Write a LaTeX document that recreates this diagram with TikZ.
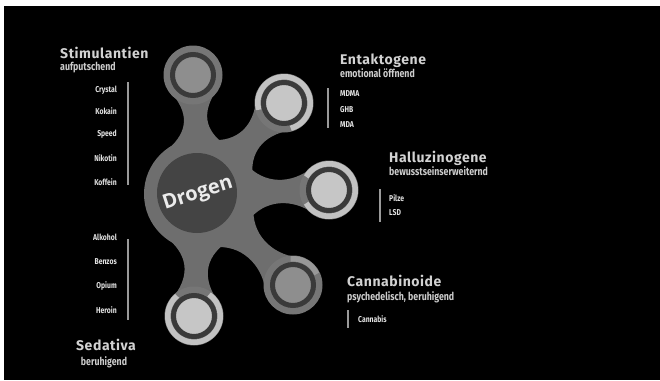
\documentclass[tikz,border=0pt]{standalone}
\usepackage{fontspec}
\setmainfont{Fira Sans}
\newfontfamily\headfont[LetterSpace=4]{Fira Sans}
\newfontfamily\condfont[FakeStretch=0.8]{Fira Sans}
\newfontfamily\hubfont{Open Sans}
\usetikzlibrary{calc,positioning}

\definecolor{blobgray}{HTML}{6E6E6E}
\definecolor{ringgray}{HTML}{767676}
\definecolor{ringlight}{HTML}{C2C2C2}
\definecolor{ringsoft}{HTML}{989898}
\definecolor{ringdark}{HTML}{3A3A3A}
\definecolor{coremid}{HTML}{8E8E8E}
\definecolor{corelight}{HTML}{C6C6C6}
\definecolor{hubdark}{HTML}{444444}
\definecolor{headgray}{HTML}{D2D2D2}
\definecolor{subgray}{HTML}{CDCDCD}
\definecolor{druggray}{HTML}{E2E2E2}
\definecolor{bargray}{HTML}{9A9A9A}

\begin{document}
\begin{tikzpicture}[x=1pt,y=1pt,
    stem/.style={fill=blobgray},
    hub base/.style={circle,fill=blobgray,minimum size=112pt,inner sep=0pt},
    hub core/.style={circle,fill=hubdark,minimum size=80pt,inner sep=0pt},
    hub text/.style={inner sep=0pt,text=white!92!black,font=\hubfont\bfseries\fontsize{20}{24}\selectfont},
    sat base/.style={circle,fill=ringgray,minimum size=59pt,inner sep=0pt},
    sat core/.style={circle,draw=ringdark,line width=5pt,minimum size=41pt,inner sep=0pt},
    light arc/.style={draw=ringlight,line width=5.5pt},
    head/.style={font=\headfont\bfseries\fontsize{14}{16}\selectfont,text=headgray,inner sep=0pt},
    subhead/.style={font=\condfont\bfseries\fontsize{11}{13}\selectfont,text=subgray,inner sep=0pt},
    drug/.style={font=\condfont\bfseries\fontsize{8.5}{10}\selectfont,text=druggray,inner sep=0pt},
    list bar/.style={draw=bargray,line width=1.5pt}]

  \useasboundingbox (0,0) rectangle (660,-380);
  \fill[white] (0,0) rectangle (660,-380);
  \fill[black] (4,-6) rectangle (660,-380);

  % centres
  \coordinate (hubc) at (200,-194);
  \coordinate (stim) at (193,-75);
  \coordinate (ent) at (284,-103);
  \coordinate (hall) at (329,-190);
  \coordinate (cann) at (293,-285);
  \coordinate (sed) at (194,-316);

  % stems
  \foreach \s in {stim,ent,hall,cann,sed}
    \fill[stem] ($(hubc)!55pt!32:(\s)$)
      .. controls ($(hubc)!64pt!(\s)!7pt!90:(\s)$) and ($(\s)!37pt!(hubc)!7pt!-90:(hubc)$) ..
      ($(\s)!28pt!-55:(hubc)$) -- ($(\s)!28pt!55:(hubc)$)
      .. controls ($(\s)!37pt!(hubc)!7pt!90:(hubc)$) and ($(hubc)!64pt!(\s)!7pt!-90:(\s)$) ..
      ($(hubc)!55pt!-32:(\s)$) -- cycle;

  \node[hub base] (hub) at (hubc) {};
  \node[hub core] (drogen) at (197,-193) {};
  \node[hub text,rotate=18] (drogentext) at (198,-194) {Drogen};

  % satellites
  \foreach \s in {stim,ent,hall,cann,sed}
    \node[sat base] (\s base) at (\s) {};
  \draw[light arc] ($(ent)+(195:26.25)$) arc[start angle=195,end angle=-75,radius=26.25];
  \draw[light arc] ($(hall)+(150:26.25)$) arc[start angle=150,end angle=-150,radius=26.25];
  \draw[light arc,draw=ringsoft] ($(cann)+(95:26.25)$) arc[start angle=95,end angle=25,radius=26.25];
  \draw[light arc] ($(sed)+(130:26.25)$) arc[start angle=130,end angle=415,radius=26.25];
  \node[sat core,fill=coremid] (stim core) at (stim) {};
  \node[sat core,fill=corelight] (ent core) at (ent) {};
  \node[sat core,fill=corelight] (hall core) at (hall) {};
  \node[sat core,fill=coremid] (cann core) at (cann) {};
  \node[sat core,fill=corelight] (sed core) at (sed) {};

  % Stimulantien
  \node[head,anchor=base west] (stimhead) at (60,-58) {Stimulantien};
  \node[subhead,anchor=base west] (stimsub) at (60,-70) {aufputschend};
  \draw[list bar] (128,-82) -- (128,-185);
  \foreach \d/\y in {Crystal/90,Kokain/111,Speed/134,Nikotin/158,Koffein/182}
    \node[drug,anchor=east] (d\d) at (117,-\y) {\d};

  % Sedativa
  \draw[list bar] (128,-239) -- (128,-320);
  \foreach \d/\y in {Alkohol/237,Benzos/262,Opium/286,Heroin/310}
    \node[drug,anchor=east] (d\d) at (117,-\y) {\d};
  \node[head] (sedhead) at (106,-345) {Sedativa};
  \node[subhead] (sedsub) at (104,-362) {beruhigend};

  % Entaktogene
  \node[head,anchor=base west] (enthead) at (340,-64) {Entaktogene};
  \node[subhead,anchor=base west] (entsub) at (340,-77) {emotional öffnend};
  \draw[list bar] (328,-88) -- (328,-128);
  \foreach \d/\y in {MDMA/94,GHB/110,MDA/125}
    \node[drug,anchor=west] (d\d) at (340,-\y) {\d};

  % Halluzinogene
  \node[head,anchor=base west] (hallhead) at (389,-162) {Halluzinogene};
  \node[subhead,anchor=base west] (hallsub) at (389,-175) {bewusstseinserweiternd};
  \draw[list bar] (380,-189) -- (380,-222);
  \foreach \d/\y in {Pilze/198,LSD/213}
    \node[drug,anchor=west] (d\d) at (389,-\y) {\d};

  % Cannabinoide
  \node[head,anchor=base west] (cannhead) at (347,-286) {Cannabinoide};
  \node[subhead,anchor=base west] (cannsub) at (347,-300) {psychedelisch, beruhigend};
  \draw[list bar] (348,-310) -- (348,-328);
  \node[drug,anchor=west] (dCannabis) at (358,-319) {Cannabis};

\end{tikzpicture}
\end{document}
